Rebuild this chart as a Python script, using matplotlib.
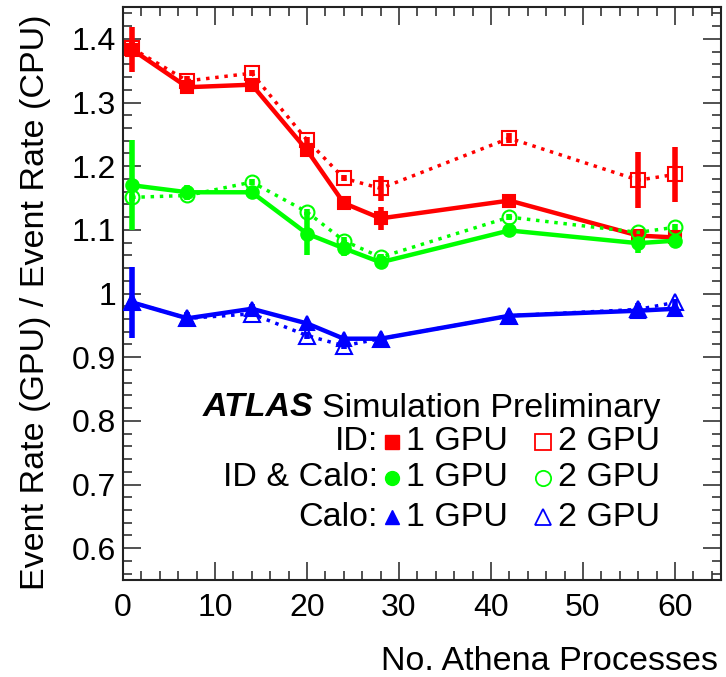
import matplotlib
matplotlib.use("Agg")
import matplotlib.pyplot as plt
from matplotlib.ticker import MultipleLocator

plt.rcParams['font.family'] = ['Liberation Sans', 'DejaVu Sans']

# ---- data ----
procs = [1, 7, 14, 20, 24, 28, 42, 56, 60]

id_1gpu = [1.383, 1.324, 1.328, 1.225, 1.142, 1.118, 1.146, 1.091, 1.088]
id_1gpu_err = [0.035, 0.008, 0.005, 0.008, 0.005, 0.018, 0.005, 0.005, 0.005]
id_2gpu = [1.385, 1.334, 1.346, 1.241, 1.181, 1.165, 1.244, 1.178, 1.187]
id_2gpu_err = [0.010, 0.008, 0.005, 0.005, 0.005, 0.020, 0.008, 0.044, 0.043]

idcalo_1gpu = [1.170, 1.159, 1.159, 1.094, 1.071, 1.049, 1.099, 1.079, 1.083]
idcalo_1gpu_err = [0.071, 0.012, 0.005, 0.034, 0.012, 0.005, 0.010, 0.015, 0.005]
idcalo_2gpu = [1.151, 1.154, 1.175, 1.128, 1.083, 1.057, 1.120, 1.096, 1.104]
idcalo_2gpu_err = [0.005, 0.005, 0.005, 0.005, 0.005, 0.005, 0.005, 0.005, 0.005]

calo_1gpu = [0.986, 0.961, 0.976, 0.953, 0.929, 0.929, 0.965, 0.973, 0.976]
calo_1gpu_err = [0.056, 0.010, 0.008, 0.005, 0.005, 0.005, 0.004, 0.005, 0.004]
calo_2gpu = [0.986, 0.961, 0.968, 0.934, 0.918, 0.929, 0.965, 0.975, 0.986]
calo_2gpu_err = [0.005, 0.005, 0.005, 0.005, 0.005, 0.005, 0.004, 0.010, 0.005]

RED, GREEN, BLUE = '#ff0000', '#00ff00', '#0000ff'

W, H = 726, 677
fig = plt.figure(figsize=(W / 100, H / 100), dpi=100)
ax = fig.add_axes([123 / W, 1 - 580 / H, (721 - 123) / W, (580 - 7) / H])


def series(y, e, color, marker, filled, ls, lw, ms):
    ax.errorbar(procs, y, yerr=e, color=color, ls=ls, lw=lw,
                marker=marker, ms=ms,
                mfc=color if filled else 'none', mec=color, mew=1.5,
                elinewidth=4, capsize=0, zorder=3)


series(id_1gpu, id_1gpu_err, RED, 's', True, '-', 3.2, 9)
series(idcalo_1gpu, idcalo_1gpu_err, GREEN, 'o', True, '-', 3.2, 9)
series(calo_1gpu, calo_1gpu_err, BLUE, '^', True, '-', 3.2, 10)
series(id_2gpu, id_2gpu_err, RED, 's', False, ':', 2.5, 10)
series(idcalo_2gpu, idcalo_2gpu_err, GREEN, 'o', False, ':', 2.5, 10)
series(calo_2gpu, calo_2gpu_err, BLUE, '^', False, ':', 2.5, 11)

ax.set_xlim(0, 65)
ax.set_ylim(0.55, 1.45)
ax.xaxis.set_major_locator(MultipleLocator(10))
ax.xaxis.set_minor_locator(MultipleLocator(2))
ax.yaxis.set_major_locator(MultipleLocator(0.1))
ax.yaxis.set_minor_locator(MultipleLocator(0.02))
ax.set_yticks([0.6, 0.7, 0.8, 0.9, 1.0, 1.1, 1.2, 1.3, 1.4])
ax.set_yticklabels(['0.6', '0.7', '0.8', '0.9', '1', '1.1', '1.2', '1.3', '1.4'])
ax.tick_params(which='both', direction='in', top=True, right=True, width=1.2, color='#333333')
ax.tick_params(which='major', length=13, labelsize=23)
ax.tick_params(axis='x', which='major', pad=9)
ax.tick_params(axis='y', which='major', pad=5)
ax.tick_params(which='minor', length=6.5)
for s in ax.spines.values():
    s.set_linewidth(1.5)
    s.set_color('#222222')

fig.text(36 / W, 1 - 15 / H, 'Event Rate (GPU) / Event Rate (CPU)', rotation=90,
         ha='center', va='top', fontsize=24.5)
fig.text(718 / W, 1 - 662 / H, 'No. Athena Processes', ha='right', va='center', fontsize=24.5)


# ---- legend block ----
def fx(px):
    return px / W


def fy(py):
    return 1 - py / H


LFS = 24.5
fig.text(fx(660), fy(408), 'Simulation Preliminary', ha='right', va='center', fontsize=LFS)
fig.text(fx(313), fy(408), 'ATLAS', ha='right', va='center', fontsize=LFS,
         fontweight='bold', fontstyle='italic')

rows = [('ID:', RED, 's', 442), ('ID & Calo:', GREEN, 'o', 478), ('Calo:', BLUE, '^', 517)]
for label, color, marker, py in rows:
    fig.text(fx(378), fy(py), label, ha='right', va='center', fontsize=LFS)
    fig.lines.append(plt.Line2D([fx(392)], [fy(py)], transform=fig.transFigure,
                                marker=marker, ms=10, mfc=color, mec=color, ls='none'))
    fig.text(fx(406), fy(py), '1 GPU', ha='left', va='center', fontsize=LFS)
    fig.lines.append(plt.Line2D([fx(543)], [fy(py)], transform=fig.transFigure,
                                marker=marker, ms=11, mfc='none', mec=color, mew=1.3, ls='none'))
    fig.text(fx(660), fy(py), '2 GPU', ha='right', va='center', fontsize=LFS)

fig.savefig('out.png', dpi=100)
